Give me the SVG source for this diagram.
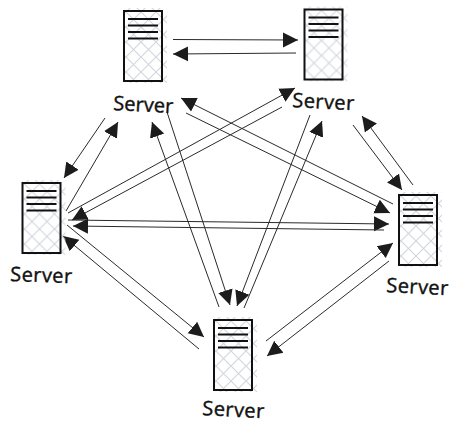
<svg xmlns="http://www.w3.org/2000/svg" width="459" height="435" viewBox="0 0 459 435">
<style>
.box{fill:none;stroke:#111;stroke-width:2}
.bar{stroke:#111;stroke-width:2;fill:none}
.hatch{fill:url(#xh)}
.lbl{font-family:"Open Sans","DejaVu Sans",sans-serif;font-size:20px;fill:#111;stroke:#111;stroke-width:.4}
.c line{stroke:#2a2a2a;stroke-width:1;marker-end:url(#ah)}
</style>
<defs>
<pattern id="xh" patternUnits="userSpaceOnUse" width="15" height="15" patternTransform="translate(2 1)">
<path d="M0 0L15 15M15 0L0 15" stroke="#d3d7de" stroke-width="1.200" fill="none"/>
</pattern>
<marker id="ah" markerUnits="userSpaceOnUse" markerWidth="18" markerHeight="18" refX="15" refY="9" orient="auto" viewBox="0 0 18 18">
<path d="M0 1.500L15 9L0 16.500Z" fill="#1c1c1c"/>
</marker>
<g id="srv">
<rect class="hatch" x="0" y="-3" width="43" height="75"/>
<rect class="box" x="0" y="0" width="38" height="70"/>
<path class="bar" d="M4 8H34M4 14.500H34M4 21H34M4 27.500H34"/>
</g>
</defs>
<g id="connectors" class="c">
<line x1="173" y1="39.500" x2="298" y2="40"/>
<line x1="296" y1="53" x2="173" y2="54"/>
<line x1="105" y1="118" x2="64" y2="178"/>
<line x1="66" y1="211" x2="118" y2="122"/>
<line x1="219" y1="307" x2="152" y2="122"/>
<line x1="167" y1="112" x2="230" y2="305"/>
<line x1="393" y1="204" x2="181" y2="98"/>
<line x1="186" y1="113" x2="390" y2="213"/>
<line x1="68" y1="213" x2="295" y2="88"/>
<line x1="282" y1="107" x2="72" y2="220"/>
<line x1="68" y1="220" x2="389" y2="224"/>
<line x1="384" y1="230" x2="73" y2="226"/>
<line x1="67" y1="225" x2="204" y2="337"/>
<line x1="199" y1="349" x2="63" y2="236"/>
<line x1="266" y1="341" x2="393" y2="243"/>
<line x1="389" y1="261" x2="267" y2="356"/>
<line x1="244" y1="308" x2="322" y2="121"/>
<line x1="310" y1="115" x2="237" y2="306"/>
<line x1="413" y1="185" x2="362" y2="116"/>
<line x1="353" y1="125" x2="402" y2="190"/>
</g>
<g id="node-top-left"><use href="#srv" x="124" y="11"/><text class="lbl" transform="translate(113 110) rotate(3)" textLength="60">Server</text></g>
<g id="node-top-right"><use href="#srv" x="304.500" y="9.500"/><text class="lbl" transform="translate(292 107) rotate(3)" textLength="62">Server</text></g>
<g id="node-left"><use href="#srv" x="22.500" y="183"/><text class="lbl" transform="translate(10 281) rotate(2)" textLength="62">Server</text></g>
<g id="node-bottom"><use href="#srv" x="214" y="320"/><text class="lbl" transform="translate(202 415) rotate(3)" textLength="62">Server</text></g>
<g id="node-right"><use href="#srv" x="399" y="195"/><text class="lbl" transform="translate(386 292) rotate(3)" textLength="62">Server</text></g>
</svg>
